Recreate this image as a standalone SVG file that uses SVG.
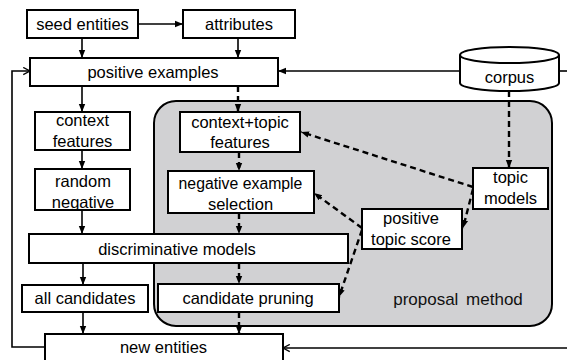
<svg xmlns="http://www.w3.org/2000/svg" width="567" height="360" viewBox="0 0 567 360">
<style>
.box{fill:#fff;stroke:#000;stroke-width:2}
.t{font-family:"Liberation Sans",Arial,sans-serif;font-size:16.5px;fill:#000;text-anchor:middle}
.s{fill:none;stroke:#000;stroke-width:1.6}
.d{fill:none;stroke:#000;stroke-width:2.4;stroke-dasharray:6,4}
</style>
<defs>
<marker id="ah" viewBox="0 0 10 10" refX="10" refY="5" markerWidth="8" markerHeight="8" orient="auto" markerUnits="userSpaceOnUse"><path d="M0,1 L10,5 L0,9 z" fill="#000"/></marker>
<marker id="oh" viewBox="0 0 10 10" refX="9.5" refY="5" markerWidth="9" markerHeight="9" orient="auto" markerUnits="userSpaceOnUse"><path d="M2,1 L9.5,5 L2,9" fill="none" stroke="#000" stroke-width="1.4"/></marker>
</defs>
<rect width="567" height="360" fill="#fff"/>
<g id="proposal">
<rect x="154" y="101" width="398" height="225" rx="22" ry="22" fill="#d1d1d3" stroke="#000" stroke-width="2"/>
<text x="458" y="305" style="font-family:'Liberation Sans',Arial,sans-serif;font-size:17px;word-spacing:3px;text-anchor:middle;fill:#111">proposal method</text>
</g>
<g id="connectors">
<line class="s" x1="138" y1="24" x2="183" y2="24" marker-end="url(#ah)"/>
<line class="s" x1="82" y1="38" x2="82" y2="58" marker-end="url(#ah)"/>
<line class="s" x1="238" y1="38" x2="238" y2="58" marker-end="url(#ah)"/>
<line class="s" x1="567" y1="71" x2="559" y2="71"/>
<line class="s" x1="460" y1="71" x2="278" y2="71" marker-end="url(#ah)"/>
<polyline class="s" points="45,347 12,347 12,71 30,71" marker-end="url(#oh)"/>
<line class="s" x1="567" y1="348" x2="283" y2="348" marker-end="url(#oh)"/>
<line class="s" x1="82" y1="86" x2="82" y2="112" marker-end="url(#ah)"/>
<line class="s" x1="82" y1="150" x2="82" y2="169" marker-end="url(#ah)"/>
<line class="s" x1="82" y1="210" x2="82" y2="234" marker-end="url(#ah)"/>
<line class="s" x1="83" y1="263" x2="83" y2="285" marker-end="url(#ah)"/>
<line class="s" x1="83" y1="312" x2="83" y2="334" marker-end="url(#ah)"/>
<line class="d" x1="238" y1="86" x2="238" y2="112" marker-end="url(#ah)"/>
<line class="d" x1="239" y1="152" x2="239" y2="171" marker-end="url(#ah)"/>
<line class="d" x1="239" y1="213" x2="239" y2="234" marker-end="url(#ah)"/>
<line class="d" x1="239" y1="263" x2="239" y2="284" marker-end="url(#ah)"/>
<line class="d" x1="239" y1="312" x2="239" y2="334" marker-end="url(#ah)"/>
<line class="d" x1="509" y1="91" x2="509" y2="168" marker-end="url(#ah)"/>
<line class="d" x1="473" y1="187" x2="301" y2="132" marker-end="url(#ah)"/>
<line class="d" x1="473" y1="189" x2="463" y2="228" marker-end="url(#ah)"/>
<line class="d" x1="362" y1="228" x2="314" y2="193" marker-end="url(#ah)"/>
<line class="d" x1="362" y1="230" x2="339" y2="297" marker-end="url(#ah)"/>
</g>
<g id="seed-entities"><rect class="box" x="27" y="10" width="111" height="28"/><text class="t" x="82.5" y="29.5">seed entities</text></g>
<g id="attributes"><rect class="box" x="183" y="10" width="112" height="28"/><text class="t" x="239" y="29.5">attributes</text></g>
<g id="positive-examples"><rect class="box" x="30" y="58" width="248" height="28"/><text class="t" x="153" y="77.5">positive examples</text></g>
<g id="corpus">
<path d="M460,55 A49.5,8 0 0,1 559,55 V83 A49.5,8 0 0,1 460,83 Z" fill="#fff" stroke="#000" stroke-width="2"/>
<path d="M460,55 A49.5,8 0 0,0 559,55" fill="none" stroke="#000" stroke-width="2"/>
<text class="t" x="509.5" y="82.5">corpus</text>
</g>
<g id="context-features"><rect class="box" x="35" y="112" width="95" height="38"/><text class="t" x="82.5" y="126">context</text><text class="t" x="82.5" y="147">features</text></g>
<g id="random-negative"><rect class="box" x="35" y="169" width="95" height="41"/><text class="t" x="83" y="186.5">random</text><text class="t" x="83" y="207.5">negative</text></g>
<g id="context-topic-features"><rect class="box" x="180" y="112" width="120" height="40"/><text class="t" x="240" y="127.5">context+topic</text><text class="t" x="240" y="148">features</text></g>
<g id="negative-example-selection"><rect class="box" x="168" y="171" width="146" height="42"/><text class="t" x="240.5" y="188.5" style="font-size:15.8px">negative example</text><text class="t" x="240.5" y="209.5">selection</text></g>
<g id="topic-models"><rect class="box" x="473" y="168" width="75" height="41"/><text class="t" x="510.5" y="183">topic</text><text class="t" x="510.5" y="204">models</text></g>
<g id="positive-topic-score"><rect class="box" x="362" y="209" width="100" height="40"/><text class="t" x="411" y="224">positive</text><text class="t" x="411" y="245">topic score</text></g>
<g id="discriminative-models"><rect class="box" x="29" y="234" width="319" height="29"/><text class="t" x="177" y="254.5">discriminative models</text></g>
<g id="all-candidates"><rect class="box" x="22" y="285" width="126" height="27"/><text class="t" x="85" y="303.5">all candidates</text></g>
<g id="candidate-pruning"><rect class="box" x="158" y="284" width="181" height="28"/><text class="t" x="248" y="303.5">candidate pruning</text></g>
<g id="new-entities"><rect class="box" x="45" y="334" width="238" height="30"/><text class="t" x="163.5" y="353">new entities</text></g>
</svg>
